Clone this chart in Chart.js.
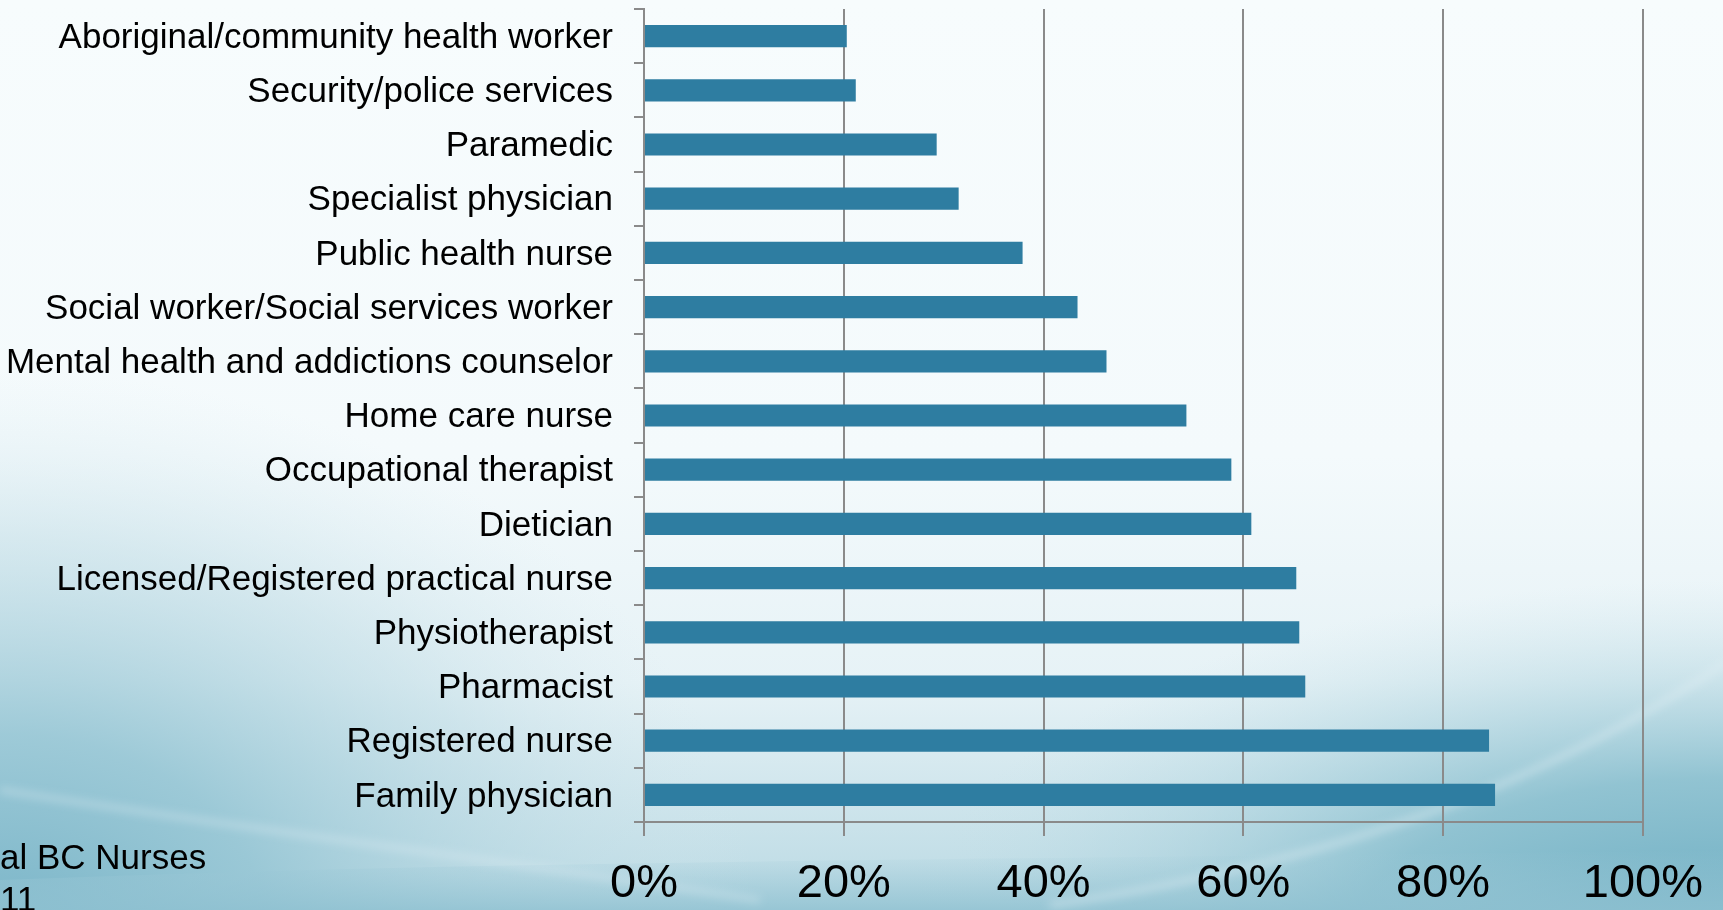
<!DOCTYPE html>
<html>
<head>
<meta charset="utf-8">
<script src="https://cdn.jsdelivr.net/npm/chart.js@4.4.1/dist/chart.umd.min.js"></script>
<style>
    html, body { margin: 0; padding: 0; overflow: hidden; }
    body { width: 1723px; height: 910px; position: relative; font-family: "Liberation Sans", Arial, sans-serif; }
    #bg { position: absolute; left: 0; top: 0; }
    #wrap { position: absolute; left: 0; top: 0; width: 1723px; height: 910px; }
    .source { position: absolute; left: 0; font-size: 35px; color: #000; white-space: nowrap; line-height: 42px; }
</style>
</head>
<body>
<!-- slide backdrop: pale top, teal wave at the bottom -->
<svg id="bg" width="1723" height="910" xmlns="http://www.w3.org/2000/svg">
    <defs>
        <linearGradient id="base" x1="0" y1="0" x2="0" y2="1">
            <stop offset="0" stop-color="#f7fcfd"/>
            <stop offset="0.5" stop-color="#f4fafc"/>
            <stop offset="0.75" stop-color="#e6f2f6"/>
            <stop offset="1" stop-color="#b9d9e3"/>
        </linearGradient>
        <radialGradient id="leftGlow" gradientUnits="userSpaceOnUse" cx="0" cy="0" r="1"
                        gradientTransform="translate(0,930) scale(760,560)">
            <stop offset="0" stop-color="#7ab5c8"/>
            <stop offset="0.35" stop-color="#93c4d3" stop-opacity="0.85"/>
            <stop offset="0.7" stop-color="#b8d8e2" stop-opacity="0.45"/>
            <stop offset="1" stop-color="#d6e9ef" stop-opacity="0"/>
        </radialGradient>
        <radialGradient id="rightGlow" gradientUnits="userSpaceOnUse" cx="0" cy="0" r="1"
                        gradientTransform="translate(1723,940) scale(820,360)">
            <stop offset="0" stop-color="#6aacc1"/>
            <stop offset="0.45" stop-color="#86bdcd" stop-opacity="0.85"/>
            <stop offset="1" stop-color="#c6e1e9" stop-opacity="0"/>
        </radialGradient>
        <linearGradient id="bottomBand" x1="0" y1="0" x2="0" y2="1">
            <stop offset="0" stop-color="#9fcad8" stop-opacity="0"/>
            <stop offset="1" stop-color="#8fc1d1" stop-opacity="0.8"/>
        </linearGradient>
        <filter id="soft"><feGaussianBlur stdDeviation="4"/></filter>
    </defs>
    <rect width="1723" height="910" fill="url(#base)"/>
    <rect width="1723" height="910" fill="url(#leftGlow)"/>
    <rect width="1723" height="910" fill="url(#rightGlow)"/>
    <path d="M0,910 L0,880 C500,860 1000,860 1723,850 L1723,910 Z" fill="url(#bottomBand)"/>
    <path d="M0,790 C250,830 500,860 760,900" fill="none"
          stroke="#e4f1f5" stroke-opacity="0.35" stroke-width="6" filter="url(#soft)"/>
    <path d="M1050,905 C1350,860 1550,780 1730,660" fill="none"
          stroke="#e4f1f5" stroke-opacity="0.4" stroke-width="7" filter="url(#soft)"/>
</svg>

<div id="wrap"><canvas id="chart" width="1723" height="910"></canvas></div>

<div class="source" style="top: 836px;">al BC Nurses</div>
<div class="source" style="top: 878px;">11</div>

<script>
// professions, top to bottom
const categories = [
    'Aboriginal/community health worker',
    'Security/police services',
    'Paramedic',
    'Specialist physician',
    'Public health nurse',
    'Social worker/Social services worker',
    'Mental health and addictions counselor',
    'Home care nurse',
    'Occupational therapist',
    'Dietician',
    'Licensed/Registered practical nurse',
    'Physiotherapist',
    'Pharmacist',
    'Registered nurse',
    'Family physician'
];

// share of respondents, percent
const shares = [20.3, 21.2, 29.3, 31.5, 37.9, 43.4, 46.3, 54.3, 58.8, 60.8, 65.3, 65.6, 66.2, 84.6, 85.2];

const xTicks = [0, 20, 40, 60, 80, 100];

const BAR_COLOR = '#2E7DA1';
const LINE_COLOR = '#8a8a8a';
const FONT = '"Liberation Sans", Arial, sans-serif';

new Chart(document.getElementById('chart'), {
    type: 'bar',
    data: {
        labels: categories,
        datasets: [{
            data: shares,
            backgroundColor: BAR_COLOR,
            borderWidth: 0,
            barPercentage: 0.41,
            categoryPercentage: 1.0
        }]
    },
    options: {
        indexAxis: 'y',
        responsive: false,
        animation: false,
        layout: { padding: { left: 0, right: 80, top: 9, bottom: 0 } },
        plugins: {
            legend: { display: false },
            tooltip: { enabled: false }
        },
        scales: {
            x: {
                min: xTicks[0],
                max: xTicks[xTicks.length - 1],
                afterBuildTicks: (scale) => { scale.ticks = xTicks.map(v => ({ value: v })); },
                grid: { color: LINE_COLOR, lineWidth: 2, tickLength: 14 },
                border: { color: LINE_COLOR, width: 2 },
                ticks: {
                    color: '#000',
                    padding: 20,
                    maxRotation: 0,
                    font: { family: FONT, size: 47 },
                    callback: (v) => v + '%'
                },
                afterFit: (scale) => { scale.height = 88; }
            },
            y: {
                grid: { offset: true, drawOnChartArea: false, color: LINE_COLOR, lineWidth: 2, tickLength: 10 },
                border: { color: LINE_COLOR, width: 2 },
                ticks: {
                    color: '#000',
                    padding: 21,
                    labelOffset: 2,
                    font: { family: FONT, size: 35 }
                },
                afterFit: (scale) => {
                    scale.width = 644;
                    scale.paddingTop = 0;
                    scale.paddingBottom = 0;
                }
            }
        }
    }
});
</script>
</body>
</html>
